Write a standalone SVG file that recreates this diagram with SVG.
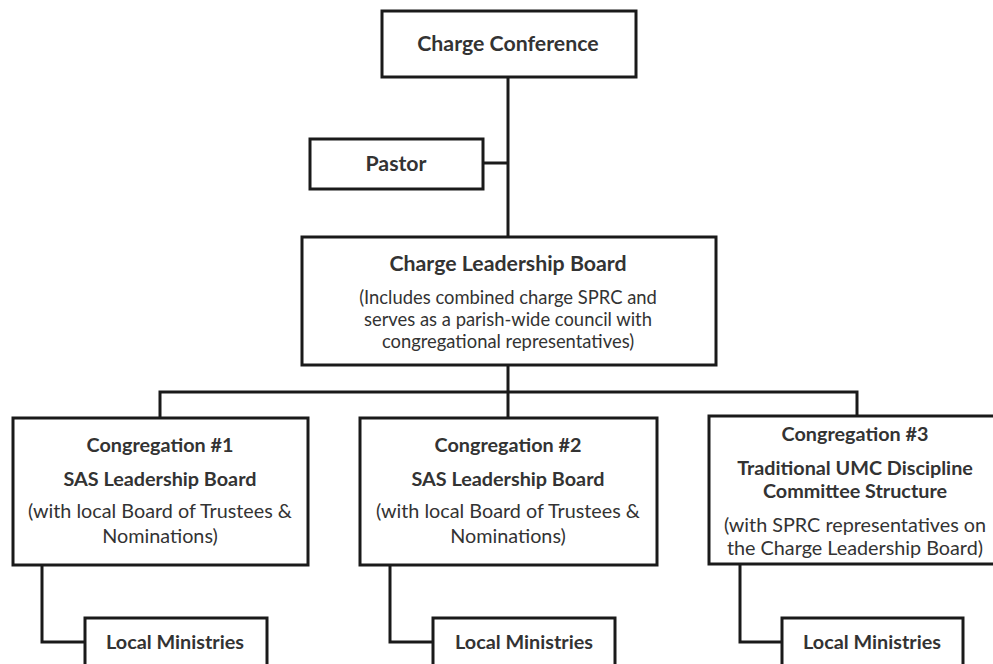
<svg xmlns="http://www.w3.org/2000/svg" width="993" height="664" viewBox="0 0 993 664">
<style>
.box{fill:#fff;stroke:#1a1a1a;stroke-width:3}
.ln{fill:none;stroke:#1a1a1a;stroke-width:3}
text{font-family:Lato,"Liberation Sans",sans-serif;fill:#333;text-anchor:middle}
.T{font-weight:bold;font-size:21.3px}
.t{font-weight:bold;font-size:19.8px}
.S{font-size:18.4px}
.s{font-size:19.8px}
</style>
<rect width="993" height="664" fill="#fff"/>
<g id="connectors">
<path class="ln" d="M508 77V237"/>
<path class="ln" d="M483 163H508"/>
<path class="ln" d="M508 365V392"/>
<path class="ln" d="M160 418V392H857V418"/>
<path class="ln" d="M508 392V418"/>
<path class="ln" d="M42 565V642H85"/>
<path class="ln" d="M390 565V642H433"/>
<path class="ln" d="M740 565V642H782"/>
</g>
<g id="charge-conference">
<rect class="box" x="382" y="11" width="254" height="66"/>
<text class="T" x="508" y="51">Charge Conference</text>
</g>
<g id="pastor">
<rect class="box" x="310" y="139" width="173" height="50"/>
<text class="T" x="396" y="171">Pastor</text>
</g>
<g id="charge-leadership-board">
<rect class="box" x="302" y="237" width="414" height="128"/>
<text class="T" x="508" y="271">Charge Leadership Board</text>
<text class="S" x="508" y="304">(Includes combined charge SPRC and</text>
<text class="S" x="508" y="326">serves as a parish-wide council with</text>
<text class="S" x="508" y="348">congregational representatives)</text>
</g>
<g id="congregation-1">
<rect class="box" x="13" y="418" width="295" height="147"/>
<text class="t" x="160" y="452">Congregation #1</text>
<text class="t" x="160" y="486">SAS Leadership Board</text>
<text class="s" x="160" y="518">(with local Board of Trustees &amp;</text>
<text class="s" x="160" y="543">Nominations)</text>
</g>
<g id="congregation-2">
<rect class="box" x="360" y="418" width="297" height="147"/>
<text class="t" x="508" y="452">Congregation #2</text>
<text class="t" x="508" y="486">SAS Leadership Board</text>
<text class="s" x="508" y="518">(with local Board of Trustees &amp;</text>
<text class="s" x="508" y="543">Nominations)</text>
</g>
<g id="congregation-3">
<rect class="box" x="709" y="416" width="300" height="148"/>
<text class="t" x="855" y="441">Congregation #3</text>
<text class="t" x="855" y="475">Traditional UMC Discipline</text>
<text class="t" x="855" y="498">Committee Structure</text>
<text class="s" x="855" y="532">(with SPRC representatives on</text>
<text class="s" x="855" y="555">the Charge Leadership Board)</text>
</g>
<g id="local-ministries-1">
<rect class="box" x="85" y="618" width="182" height="70"/>
<text class="t" x="175" y="649">Local Ministries</text>
</g>
<g id="local-ministries-2">
<rect class="box" x="433" y="618" width="182" height="70"/>
<text class="t" x="524" y="649">Local Ministries</text>
</g>
<g id="local-ministries-3">
<rect class="box" x="782" y="618" width="181" height="70"/>
<text class="t" x="872" y="649">Local Ministries</text>
</g>
</svg>
